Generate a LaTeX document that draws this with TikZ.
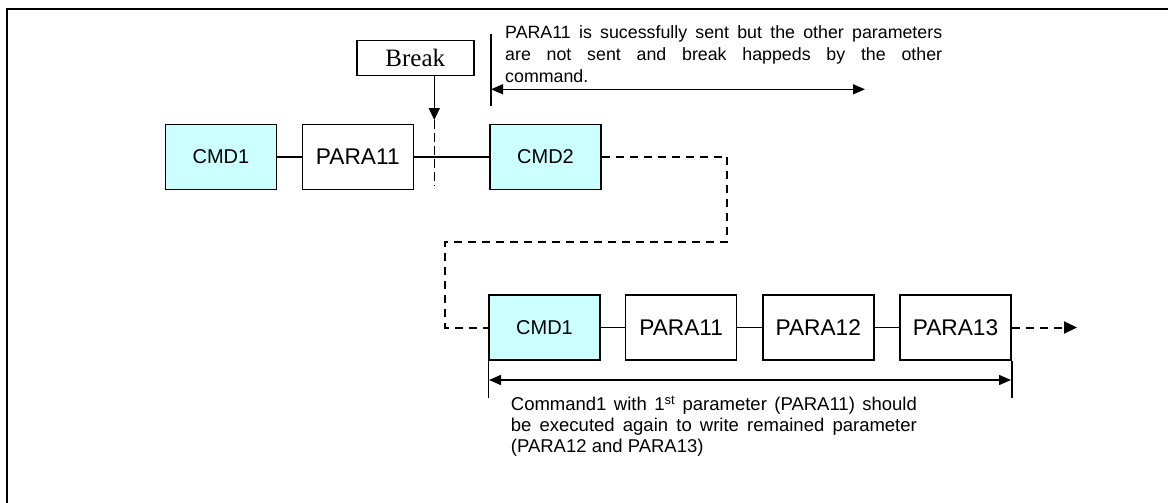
\documentclass[tikz,border=0pt]{standalone}
\usepackage{fontspec}
\setmainfont{Liberation Sans}
\newfontfamily\brkfont{Liberation Serif}
\usetikzlibrary{arrows.meta}
\definecolor{cmdcyan}{RGB}{204,255,255}
\begin{document}
\begin{tikzpicture}[x=1pt,y=-1pt,
  box/.style={draw, line width=1.5pt, minimum width=111pt, minimum height=65pt, inner sep=0pt},
  cmdbox/.style={box, fill=cmdcyan, font=\fontsize{20}{24}\selectfont},
  parabox/.style={box, fill=white, font=\fontsize{22.7}{27}\selectfont},
  link/.style={line width=1.5pt},
  dashlink/.style={line width=2pt, dash pattern=on 8pt off 6pt},
  tipend/.style={-{Triangle[length=12pt,width=11pt]}},
  tipboth/.style={{Triangle[length=12pt,width=10pt]}-{Triangle[length=12pt,width=10pt]}},
]
\useasboundingbox (0,0) rectangle (1168,503);
% frame (only top and left edges visible)
\draw[line width=2.2pt] (1170,9) -- (7,9) -- (7,505);

% upper row
\node[cmdbox] (c1) at (220.9,157) {CMD1};
\node[parabox] (p11) at (357.8,157) {PARA11};
\node[cmdbox] (c2) at (545.5,157) {CMD2};
\draw[link] (c1) -- (p11);
\draw[link] (p11) -- (c2);

% break
\node[box, minimum width=117pt, minimum height=35pt, font=\brkfont\fontsize{25}{30}\selectfont] (brk) at (415.3,58.2) {Break};
\coordinate (cut) at (434.3,120);
\coordinate (cutend) at (434.3,186);
\draw[link, tipend] (brk.south -| cut) -- (cut);
\draw[line width=1.2pt, dash pattern=on 9pt off 4pt] (cut) -- (cutend);

% upper annotation
\coordinate (aTop) at (491,34);
\coordinate (aBot) at (491,105.7);
\coordinate (aL) at (491,89.3);
\coordinate (aR) at (865,89.3);
\draw[link] (aTop) -- (aBot);
\draw[link, tipboth] (aL) -- (aR);
\node[anchor=base west, inner sep=0pt] (note1) at (505,38.5) {\fontsize{17.8}{22}\selectfont\vtop{\hsize=437pt \parindent=0pt
  \makebox[437pt][s]{PARA11 is sucessfully sent but the other parameters}\par
  \makebox[437pt][s]{are not sent and break happeds by the other}\par
  command.}};

% lower row
\node[cmdbox] (lc1) at (544.5,327.5) {CMD1};
\node[parabox] (lp11) at (681.2,327.5) {PARA11};
\node[parabox] (lp12) at (818.3,327.5) {PARA12};
\node[parabox] (lp13) at (955.5,327.5) {PARA13};
\draw[link] (lc1) -- (lp11);
\draw[link] (lp11) -- (lp12);
\draw[link] (lp12) -- (lp13);

% dashed route from CMD2 to lower CMD1
\draw[dashlink] (c2.east) -| (727.3,242.3) -| (445,327.5) -- (lc1.west);

% continuation arrow
\coordinate (out) at (1077,327.5);
\draw[dashlink, -{Triangle[length=13pt,width=12pt]}] (lp13.east) -- (out);

% lower annotation
\coordinate (dL) at (489,380);
\coordinate (dR) at (1011,380);
\draw[link] (lc1.south west) -- +(0,37);
\draw[link] (lp13.south east) -- +(0,37);
\draw[link, tipboth] (dL) -- (dR);
\node[anchor=base west, inner sep=0pt] (note2) at (510.7,410.7) {\fontsize{18.5}{21}\selectfont\vtop{\hsize=406pt \parindent=0pt
  \makebox[406pt][s]{Command1 with 1\textsuperscript{st} parameter (PARA11) should}\par
  \makebox[406pt][s]{be executed again to write remained parameter}\par
  (PARA12 and PARA13)}};
\end{tikzpicture}
\end{document}
